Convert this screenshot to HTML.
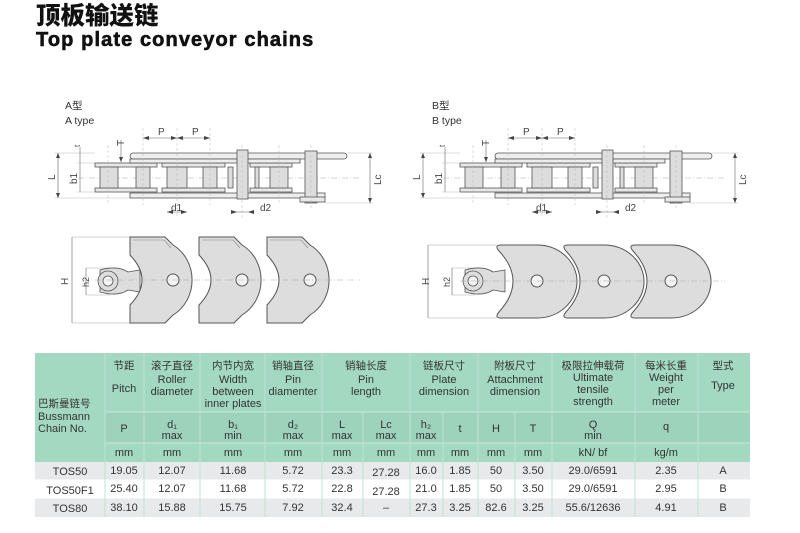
<!DOCTYPE html>
<html><head><meta charset="utf-8"><style>
*{margin:0;padding:0;box-sizing:border-box}
body{width:800px;height:533px;background:#fff;position:relative;overflow:hidden;font-family:"Liberation Sans","Noto Sans CJK SC",sans-serif;color:#222}
.t1{position:absolute;left:36px;top:1px;font-size:24.5px;font-weight:900;font-family:"Noto Sans CJK SC",sans-serif;line-height:28px;color:#111}
.t2{position:absolute;left:36px;top:29px;font-size:20px;font-weight:bold;line-height:22px;letter-spacing:1.1px;color:#111;-webkit-text-stroke:0.6px #111}
svg{position:absolute;left:0;top:0}
</style></head><body>
<div class="t1">顶板输送链</div>
<div class="t2">Top plate conveyor chains</div>

<svg width="800" height="350" viewBox="0 0 800 350" font-family="Liberation Sans, Noto Sans CJK SC, sans-serif" font-size="10" fill="#444">
<defs>
<g id="side" stroke="#555" stroke-width="0.8">
  <line x1="78" y1="178" x2="360" y2="178" stroke="#aaa" stroke-dasharray="6 2 1 2" stroke-width="0.6"/>
  <rect x="130" y="153" width="217" height="6" rx="3" fill="#eee"/>
  <rect x="95" y="163" width="62" height="4" fill="#e8e8e8"/>
  <rect x="162" y="163" width="63" height="4" fill="#e8e8e8"/>
  <rect x="250" y="163" width="42" height="4" fill="#e8e8e8"/>
  <rect x="130" y="159" width="170" height="4" fill="#eee"/>
  <rect x="95" y="188" width="62" height="4" fill="#e8e8e8"/>
  <rect x="162" y="188" width="63" height="4" fill="#e8e8e8"/>
  <rect x="250" y="188" width="42" height="4" fill="#e8e8e8"/>
  <rect x="130" y="193" width="195" height="5" fill="#eee"/>
  <rect x="100" y="167" width="18" height="21" fill="#ddd"/>
  <rect x="136" y="167" width="14" height="21" fill="#ddd"/>
  <rect x="167" y="167" width="20" height="21" fill="#ddd"/>
  <rect x="203" y="167" width="14" height="21" fill="#ddd"/>
  <rect x="228" y="167" width="5" height="21" fill="#ddd"/>
  <rect x="255" y="167" width="4" height="21" fill="#ddd"/>
  <rect x="270" y="167" width="18" height="21" fill="#ddd"/>
  <rect x="237" y="150" width="11" height="49" fill="#ddd"/>
  <rect x="305" y="151" width="12" height="52" fill="#ddd"/>
  <rect x="300" y="197" width="25" height="5" fill="#e8e8e8"/>
  <g stroke="#bbb" stroke-width="0.5" stroke-dasharray="3 2">
   <line x1="108" y1="145" x2="108" y2="205"/><line x1="143" y1="128" x2="143" y2="205"/>
   <line x1="177" y1="128" x2="177" y2="218"/><line x1="210" y1="128" x2="210" y2="205"/>
   <line x1="242" y1="145" x2="242" y2="218"/><line x1="279" y1="145" x2="279" y2="205"/><line x1="311" y1="145" x2="311" y2="210"/>
  </g>
  <g stroke="#666" stroke-width="0.6">
   <line x1="58" y1="153" x2="58" y2="198"/><line x1="55" y1="153" x2="95" y2="153" stroke="#bbb"/><line x1="55" y1="198" x2="130" y2="198" stroke="#bbb"/>
   <line x1="80" y1="163" x2="80" y2="192"/><line x1="77" y1="163" x2="95" y2="163" stroke="#bbb"/><line x1="77" y1="192" x2="95" y2="192" stroke="#bbb"/>
   <line x1="80" y1="147" x2="80" y2="163"/>
   <line x1="370" y1="153" x2="370" y2="203"/><line x1="347" y1="153" x2="373" y2="153" stroke="#bbb"/><line x1="325" y1="203" x2="373" y2="203" stroke="#bbb"/>
   <line x1="143" y1="138" x2="210" y2="138"/>
   <line x1="167" y1="212" x2="187" y2="212"/><line x1="232" y1="212" x2="252" y2="212"/>
   <line x1="121" y1="140" x2="121" y2="162"/>
  </g>
  <g fill="#444" stroke="none">
   <path d="M143 138 l6 -2 v4z M177 138 l-6 -2 v4z M177 138 l6 -2 v4z M210 138 l-6 -2 v4z"/>
   <path d="M58 153 l-2 5 h4z M58 198 l-2 -5 h4z M370 153 l-2 5 h4z M370 203 l-2 -5 h4z"/>
   <path d="M121 162 l-2 -5 h4z"/>
   <path d="M167 212 l6 -2 v4z M187 212 l-6 -2 v4z M237 212 l-6 -2 v4z M248 212 l6 -2 v4z"/>
  </g>
</g>
<g id="pa" stroke="#555" stroke-width="1" fill="#ddd">
  <path d="M0 237 H35 L43 245 A37 40 0 0 1 43 315 L35 323 H0 V305 Q24 280 0 255 Z"/>
  <path d="M3 240 H34 L41 248" fill="none" stroke="#888" stroke-width="0.6"/>
  <circle cx="43" cy="280" r="6" fill="#f4f4f4"/>
</g>
<g id="pb" stroke="#555" stroke-width="1" fill="#ddd">
  <path d="M4 245 H40 A40 36.5 0 0 1 40 318 H4 Q-3 318 2 312 Q30 281 2 251 Q-3 245 4 245 Z"/>
  <circle cx="40" cy="281" r="6" fill="#f4f4f4"/>
</g>
<g id="lbl" font-size="10" fill="#444">
 <text x="158" y="135">P</text><text x="192" y="135">P</text>
 <text x="124" y="146" transform="rotate(-90 124 146)">T</text>
 <text x="80" y="147" transform="rotate(-90 80 147)" font-size="8">t</text>
 <text x="55" y="180" transform="rotate(-90 55 180)">L</text>
 <text x="77" y="184" transform="rotate(-90 77 184)">b1</text>
 <text x="381" y="185" transform="rotate(-90 381 185)">Lc</text>
 <text x="171" y="211">d1</text><text x="260" y="211">d2</text>
</g>
</defs>

<text x="65" y="109" font-size="10.5" fill="#333">A型</text>
<text x="65" y="124" font-size="10.5" fill="#333">A type</text>
<text x="432" y="109" font-size="10.5" fill="#333">B型</text>
<text x="432" y="124" font-size="10.5" fill="#333">B type</text>

<use href="#side"/><use href="#lbl"/>
<g transform="translate(365 0)"><use href="#side"/><use href="#lbl"/></g>

<g stroke="#666" stroke-width="0.6" fill="none">
 <line x1="72" y1="237" x2="130" y2="237" stroke="#aaa"/><line x1="72" y1="323" x2="130" y2="323" stroke="#aaa"/>
 <line x1="72" y1="237" x2="72" y2="323"/>
 <line x1="86" y1="268" x2="86" y2="295"/>
 <line x1="86" y1="268" x2="110" y2="268" stroke="#aaa"/><line x1="86" y1="295" x2="110" y2="295" stroke="#aaa"/>
</g>
<path d="M100 270 Q118 265 128 272 L140 270 L140 292 L128 290 Q118 297 100 292 Z" fill="#ddd" stroke="#555" stroke-width="0.8"/>
<circle cx="108" cy="281" r="10" fill="#ddd" stroke="#555" stroke-width="0.8"/>
<circle cx="108" cy="281" r="5" fill="#f4f4f4" stroke="#555" stroke-width="0.8"/>
<use href="#pa" transform="translate(267 0)"/>
<use href="#pa" transform="translate(199 0)"/>
<use href="#pa" transform="translate(130 0)"/>
<line x1="95" y1="280" x2="360" y2="280" stroke="#aaa" stroke-width="0.5" stroke-dasharray="6 2 1 2"/>
<text x="68" y="285" transform="rotate(-90 68 285)" font-size="10">H</text>
<text x="89" y="287" transform="rotate(-90 89 287)" font-size="9">h2</text>

<g stroke="#666" stroke-width="0.6" fill="none">
 <line x1="428" y1="245" x2="497" y2="245" stroke="#aaa"/><line x1="428" y1="318" x2="497" y2="318" stroke="#aaa"/>
 <line x1="428" y1="245" x2="428" y2="318"/>
 <line x1="452" y1="268" x2="452" y2="295"/>
 <line x1="452" y1="268" x2="475" y2="268" stroke="#aaa"/><line x1="452" y1="295" x2="475" y2="295" stroke="#aaa"/>
</g>
<path d="M465 270 Q483 265 493 272 L505 270 L505 292 L493 290 Q483 297 465 292 Z" fill="#ddd" stroke="#555" stroke-width="0.8"/>
<circle cx="473" cy="281" r="10" fill="#ddd" stroke="#555" stroke-width="0.8"/>
<circle cx="473" cy="281" r="5" fill="#f4f4f4" stroke="#555" stroke-width="0.8"/>
<use href="#pb" transform="translate(631 0)"/>
<use href="#pb" transform="translate(564 0)"/>
<use href="#pb" transform="translate(497 0)"/>
<line x1="460" y1="281" x2="725" y2="281" stroke="#aaa" stroke-width="0.5" stroke-dasharray="6 2 1 2"/>
<text x="429" y="285" transform="rotate(-90 429 285)" font-size="10">H</text>
<text x="450" y="287" transform="rotate(-90 450 287)" font-size="9">h2</text>
</svg>

<svg width="800" height="533" style="top:0" font-family="Liberation Sans, Noto Sans CJK SC, sans-serif" font-size="11" fill="#333" text-anchor="middle">
<rect x="35" y="353" width="715" height="109" fill="#a4d9c1"/>
<rect x="105" y="412" width="645" height="31" fill="#9ed3bb"/>
<rect x="35" y="462" width="715" height="18" fill="#e8e9ea"/>
<rect x="35" y="498" width="715" height="19" fill="#e8e9ea"/>
<g stroke="#c8e9da" stroke-width="1">
 <line x1="105" y1="412" x2="750" y2="412"/><line x1="105" y1="443" x2="750" y2="443"/>
 <g stroke="#fff" stroke-width="1"><line x1="35" y1="480" x2="750" y2="480"/><line x1="35" y1="498" x2="750" y2="498"/></g>
</g>
<g stroke="#bde4d2" stroke-width="1">
 <line x1="105" y1="353" x2="105" y2="517"/><line x1="144" y1="353" x2="144" y2="517"/><line x1="200" y1="353" x2="200" y2="517"/>
 <line x1="265" y1="353" x2="265" y2="517"/><line x1="322" y1="353" x2="322" y2="517"/><line x1="363" y1="412" x2="363" y2="517"/>
 <line x1="410" y1="353" x2="410" y2="517"/><line x1="443" y1="412" x2="443" y2="517"/><line x1="478" y1="353" x2="478" y2="517"/>
 <line x1="515" y1="412" x2="515" y2="517"/><line x1="552" y1="353" x2="552" y2="517"/><line x1="635" y1="353" x2="635" y2="517"/><line x1="698" y1="353" x2="698" y2="517"/>
</g>
<g font-family="Noto Sans CJK SC, sans-serif" font-size="10.5">
 <text x="38" y="407" text-anchor="start">巴斯曼链号</text>
 <text x="124" y="369">节距</text><text x="172" y="369">滚子直径</text><text x="233" y="369">内节内宽</text>
 <text x="293" y="369">销轴直径</text><text x="366" y="369">销轴长度</text><text x="444" y="369">链板尺寸</text>
 <text x="515" y="369">附板尺寸</text><text x="593" y="369">极限拉伸载荷</text><text x="666" y="369">每米长重</text><text x="723" y="369">型式</text>
</g>
<text x="124" y="392">Pitch</text>
<text x="172" y="383">Roller</text><text x="172" y="395">diameter</text>
<text x="233" y="383">Width</text><text x="233" y="395">between</text><text x="233" y="407">inner plates</text>
<text x="293" y="383">Pin</text><text x="293" y="395">diamenter</text>
<text x="366" y="383">Pin</text><text x="366" y="395">length</text>
<text x="444" y="383">Plate</text><text x="444" y="395">dimension</text>
<text x="515" y="383">Attachment</text><text x="515" y="395">dimension</text>
<text x="593" y="381">Ultimate</text><text x="593" y="393">tensile</text><text x="593" y="405">strength</text>
<text x="666" y="381">Weight</text><text x="666" y="393">per</text><text x="666" y="405">meter</text>
<text x="723" y="389">Type</text>
<text x="38" y="420" text-anchor="start">Bussmann</text><text x="38" y="432" text-anchor="start">Chain No.</text>
<text x="124" y="432">P</text>
<text x="172" y="428">d₁</text><text x="172" y="439">max</text>
<text x="233" y="428">b₁</text><text x="233" y="439">min</text>
<text x="293" y="428">d₂</text><text x="293" y="439">max</text>
<text x="342" y="428">L</text><text x="342" y="439">max</text>
<text x="386" y="428">Lc</text><text x="386" y="439">max</text>
<text x="426" y="428">h₂</text><text x="426" y="439">max</text>
<text x="460" y="432">t</text><text x="496" y="432">H</text><text x="533" y="432">T</text>
<text x="593" y="428">Q</text><text x="593" y="439">min</text>
<text x="666" y="430">q</text>
<g><text x="124" y="456">mm</text><text x="172" y="456">mm</text><text x="233" y="456">mm</text><text x="293" y="456">mm</text><text x="342" y="456">mm</text><text x="386" y="456">mm</text><text x="426" y="456">mm</text><text x="460" y="456">mm</text><text x="496" y="456">mm</text><text x="533" y="456">mm</text><text x="593" y="456">kN/ bf</text><text x="666" y="456">kg/m</text></g>
<g>
<text x="70" y="475">TOS50</text><text x="124" y="474">19.05</text><text x="172" y="474">12.07</text><text x="233" y="474">11.68</text><text x="293" y="474">5.72</text><text x="342" y="474">23.3</text><text x="386" y="476">27.28</text><text x="426" y="474">16.0</text><text x="460" y="474">1.85</text><text x="496" y="474">50</text><text x="533" y="474">3.50</text><text x="593" y="474">29.0/6591</text><text x="666" y="474">2.35</text><text x="723" y="474">A</text>
<text x="70" y="494">TOS50F1</text><text x="124" y="492">25.40</text><text x="172" y="492">12.07</text><text x="233" y="492">11.68</text><text x="293" y="492">5.72</text><text x="342" y="492">22.8</text><text x="386" y="495">27.28</text><text x="426" y="492">21.0</text><text x="460" y="492">1.85</text><text x="496" y="492">50</text><text x="533" y="492">3.50</text><text x="593" y="492">29.0/6591</text><text x="666" y="492">2.95</text><text x="723" y="492">B</text>
<text x="70" y="512">TOS80</text><text x="124" y="511">38.10</text><text x="172" y="511">15.88</text><text x="233" y="511">15.75</text><text x="293" y="511">7.92</text><text x="342" y="511">32.4</text><text x="386" y="511">–</text><text x="426" y="511">27.3</text><text x="460" y="511">3.25</text><text x="496" y="511">82.6</text><text x="533" y="511">3.25</text><text x="593" y="511">55.6/12636</text><text x="666" y="511">4.91</text><text x="723" y="511">B</text>
</g>
</svg>
</body></html>
